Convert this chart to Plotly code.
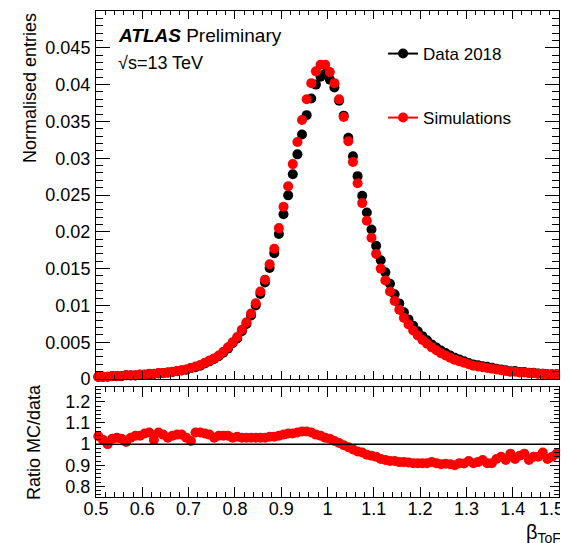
import plotly.graph_objects as go

# bin centres (beta_ToF), 100 bins of width 0.01 from 0.5 to 1.5
beta = [round(0.505 + 0.01 * i, 3) for i in range(100)]

# Simulations (red)
sim = [0.0003, 0.0003, 0.0003, 0.0004, 0.0004, 0.0004, 0.0005, 0.0005, 0.0005, 0.0006,
       0.0006, 0.0007, 0.0007, 0.0008, 0.0008, 0.0009, 0.0010, 0.0011, 0.0012, 0.0013,
       0.0015, 0.0017, 0.0019, 0.0022, 0.0025, 0.0028, 0.0032, 0.0037, 0.0043, 0.0050,
       0.0057, 0.0067, 0.0077, 0.0089, 0.0103, 0.0119, 0.0135, 0.0156, 0.0177, 0.0205,
       0.0234, 0.0262, 0.0292, 0.0322, 0.0352, 0.0380, 0.0402, 0.0418, 0.0427, 0.0427,
       0.0417, 0.0402, 0.0380, 0.0356, 0.0323, 0.0295, 0.0266, 0.0239, 0.0215, 0.0192,
       0.0170, 0.0150, 0.0134, 0.0119, 0.0106, 0.0094, 0.0083, 0.0074, 0.0066, 0.0059,
       0.0053, 0.0048, 0.0043, 0.0039, 0.0035, 0.0032, 0.0029, 0.0026, 0.0024, 0.0022,
       0.0020, 0.0018, 0.0017, 0.0016, 0.0015, 0.0014, 0.0013, 0.0012, 0.0011, 0.0010,
       0.0010, 0.0009, 0.0009, 0.0008, 0.0008, 0.0007, 0.0007, 0.0006, 0.0006, 0.0006]

# Data 2018 (black)
data = [0.00029, 0.00029, 0.00030, 0.00039, 0.00039, 0.00039, 0.00050, 0.00049, 0.00048, 0.00058,
        0.00057, 0.00066, 0.00069, 0.00076, 0.00077, 0.00087, 0.00096, 0.00105, 0.00115, 0.00126,
        0.00148, 0.00161, 0.00180, 0.00210, 0.00240, 0.00272, 0.00308, 0.00356, 0.00413, 0.00485,
        0.00551, 0.00650, 0.00748, 0.00864, 0.01000, 0.01155, 0.01310, 0.01507, 0.01710, 0.01971,
        0.02239, 0.02495, 0.02781, 0.03052, 0.03321, 0.03585, 0.03810, 0.04000, 0.04106, 0.04146,
        0.04068, 0.03960, 0.03781, 0.03578, 0.03279, 0.03026, 0.02756, 0.02490, 0.02263, 0.02032,
        0.01809, 0.01613, 0.01449, 0.01293, 0.01152, 0.01027, 0.00907, 0.00810, 0.00725, 0.00648,
        0.00582, 0.00527, 0.00470, 0.00429, 0.00387, 0.00353, 0.00320, 0.00289, 0.00264, 0.00242,
        0.00217, 0.00198, 0.00186, 0.00173, 0.00165, 0.00154, 0.00140, 0.00128, 0.00119, 0.00105,
        0.00108, 0.00095, 0.00094, 0.00086, 0.00085, 0.00074, 0.00073, 0.00065, 0.00064, 0.00063]

# Ratio MC/data
ratio = [1.037, 1.020, 1.000, 1.025, 1.030, 1.025, 1.010, 1.030, 1.040, 1.040,
         1.050, 1.055, 1.020, 1.055, 1.045, 1.030, 1.040, 1.045, 1.045, 1.030,
         1.015, 1.055, 1.055, 1.050, 1.045, 1.030, 1.040, 1.040, 1.040, 1.030,
         1.035, 1.030, 1.030, 1.030, 1.030, 1.030, 1.030, 1.035, 1.035, 1.040,
         1.045, 1.050, 1.050, 1.055, 1.060, 1.060, 1.055, 1.045, 1.040, 1.030,
         1.025, 1.015, 1.005, 0.995, 0.985, 0.975, 0.965, 0.960, 0.950, 0.945,
         0.940, 0.930, 0.925, 0.920, 0.920, 0.915, 0.915, 0.913, 0.910, 0.910,
         0.910, 0.910, 0.915, 0.910, 0.905, 0.907, 0.905, 0.900, 0.910, 0.908,
         0.920, 0.910, 0.915, 0.925, 0.910, 0.910, 0.930, 0.940, 0.925, 0.955,
         0.930, 0.945, 0.955, 0.925, 0.940, 0.940, 0.960, 0.930, 0.940, 0.955]

x_ticks = [0.5, 0.6, 0.7, 0.8, 0.9, 1.0, 1.1, 1.2, 1.3, 1.4, 1.5]
x_ticklabels = ["0.5", "0.6", "0.7", "0.8", "0.9", "1", "1.1", "1.2", "1.3", "1.4",
                "1.5\u00a0\u00a0\u00a0"]
y_ticks = [0, 0.005, 0.01, 0.015, 0.02, 0.025, 0.03, 0.035, 0.04, 0.045]
y_ticklabels = ["0", "0.005", "0.01", "0.015", "0.02", "0.025", "0.03", "0.035", "0.04", "0.045"]
r_ticks = [0.8, 0.9, 1.0, 1.1, 1.2]
r_ticklabels = ["0.8", "0.9", "1", "1.1", "1.2"]

FONT = "Liberation Sans, Arial, Helvetica, sans-serif"
MS = 10

fig = go.Figure()
fig.add_trace(go.Scatter(x=beta, y=data, mode="markers", xaxis="x", yaxis="y",
                         marker=dict(color="black", size=MS), showlegend=False,
                         cliponaxis=False))
fig.add_trace(go.Scatter(x=beta, y=sim, mode="markers", xaxis="x", yaxis="y",
                         marker=dict(color="red", size=MS), showlegend=False,
                         cliponaxis=False))
fig.add_trace(go.Scatter(x=beta, y=ratio, mode="markers", xaxis="x2", yaxis="y2",
                         marker=dict(color="red", size=MS), showlegend=False,
                         cliponaxis=False))
# legend entries
fig.add_trace(go.Scatter(x=[None], y=[None], mode="lines+markers", name="Data 2018",
                         line=dict(color="black", width=2), marker=dict(color="black", size=MS),
                         legend="legend"))
fig.add_trace(go.Scatter(x=[None], y=[None], mode="lines+markers", name="Simulations",
                         line=dict(color="red", width=2), marker=dict(color="red", size=MS),
                         legend="legend2"))

common_x = dict(range=[0.5, 1.5], tickvals=x_ticks, ticktext=x_ticklabels, automargin=False,
                ticks="inside", showline=True, mirror="allticks", linecolor="black",
                linewidth=1, tickcolor="black", tickwidth=1, showgrid=False, zeroline=False,
                ticklabeloverflow="allow",
                tickfont=dict(family=FONT, size=18, color="black"))
minor_x = dict(dtick=0.02, tick0=0.5, ticks="inside", tickcolor="black", tickwidth=1,
               showgrid=False)

# the page body adds an 8 px offset, so the figure is 8 px smaller on each axis
fig.update_layout(
    template="none",
    width=560, height=535,
    margin=dict(l=88, r=9, t=3, b=46, autoexpand=False),
    paper_bgcolor="white", plot_bgcolor="white",
    font=dict(family=FONT, color="black"),
    xaxis=dict(common_x, domain=[0, 1], anchor="y", showticklabels=False, ticklen=8,
               minor=dict(minor_x, ticklen=4)),
    xaxis2=dict(common_x, domain=[0, 1], anchor="y2", showticklabels=True, ticklen=10,
                minor=dict(minor_x, ticklen=5), ticklabelstandoff=-5),
    yaxis=dict(domain=[0.2428, 1], range=[0, 0.05], tickvals=y_ticks, ticktext=y_ticklabels,
               automargin=False,
               ticks="inside", ticklen=14, showline=True, mirror="allticks", linecolor="black",
               linewidth=1, tickcolor="black", showgrid=False, zeroline=False,
               minor=dict(dtick=0.001, tick0=0, ticks="inside", ticklen=7, tickcolor="black",
                          showgrid=False),
               tickfont=dict(family=FONT, size=18, color="black"), ticklabelstandoff=1),
    yaxis2=dict(domain=[0, 0.2263], range=[0.75, 1.27], tickvals=r_ticks, ticktext=r_ticklabels,
                automargin=False,
                ticks="inside", ticklen=9, showline=True, mirror="allticks", linecolor="black",
                linewidth=1, tickcolor="black", showgrid=False, zeroline=False,
                minor=dict(dtick=0.02, tick0=0.8, ticks="inside", ticklen=5, tickcolor="black",
                           showgrid=False),
                tickfont=dict(family=FONT, size=18, color="black"), ticklabelstandoff=1),
    legend=dict(x=0.62, y=0.9115, xanchor="left", yanchor="middle",
                font=dict(family=FONT, size=17, color="black"), bgcolor="rgba(0,0,0,0)",
                itemwidth=30),
    legend2=dict(x=0.62, y=0.7798, xanchor="left", yanchor="middle",
                 font=dict(family=FONT, size=17, color="black"), bgcolor="rgba(0,0,0,0)",
                 itemwidth=30),
    shapes=[dict(type="line", xref="x2 domain", yref="y2", x0=0, x1=1, y0=1, y1=1,
                 line=dict(color="black", width=1.5), layer="above")],
    annotations=[
        dict(text="<b><i>ATLAS</i></b> Preliminary", x=0.0432, y=0.9486, xref="paper",
             yref="paper", xanchor="left", yanchor="middle", showarrow=False,
             font=dict(family=FONT, size=19, color="black")),
        dict(text="√s=13 TeV", x=0.0432, y=0.893, xref="paper", yref="paper",
             xanchor="left", yanchor="middle", showarrow=False,
             font=dict(family=FONT, size=18, color="black")),
        dict(text="Normalised entries", textangle=-90, x=-0.1425, y=1.0, xref="paper",
             yref="paper", xanchor="center", yanchor="top", showarrow=False,
             font=dict(family=FONT, size=18, color="black")),
        dict(text="Ratio MC/data", textangle=-90, x=-0.134, y=0.113, xref="paper",
             yref="paper", xanchor="center", yanchor="middle", showarrow=False,
             font=dict(family=FONT, size=18, color="black")),
        dict(text="β<sub>ToF</sub>", x=1.008, y=-0.045, xref="paper", yref="paper",
             xanchor="right", yanchor="top", showarrow=False,
             font=dict(family=FONT, size=20, color="black")),
    ],
)

fig.write_html("out.html")
